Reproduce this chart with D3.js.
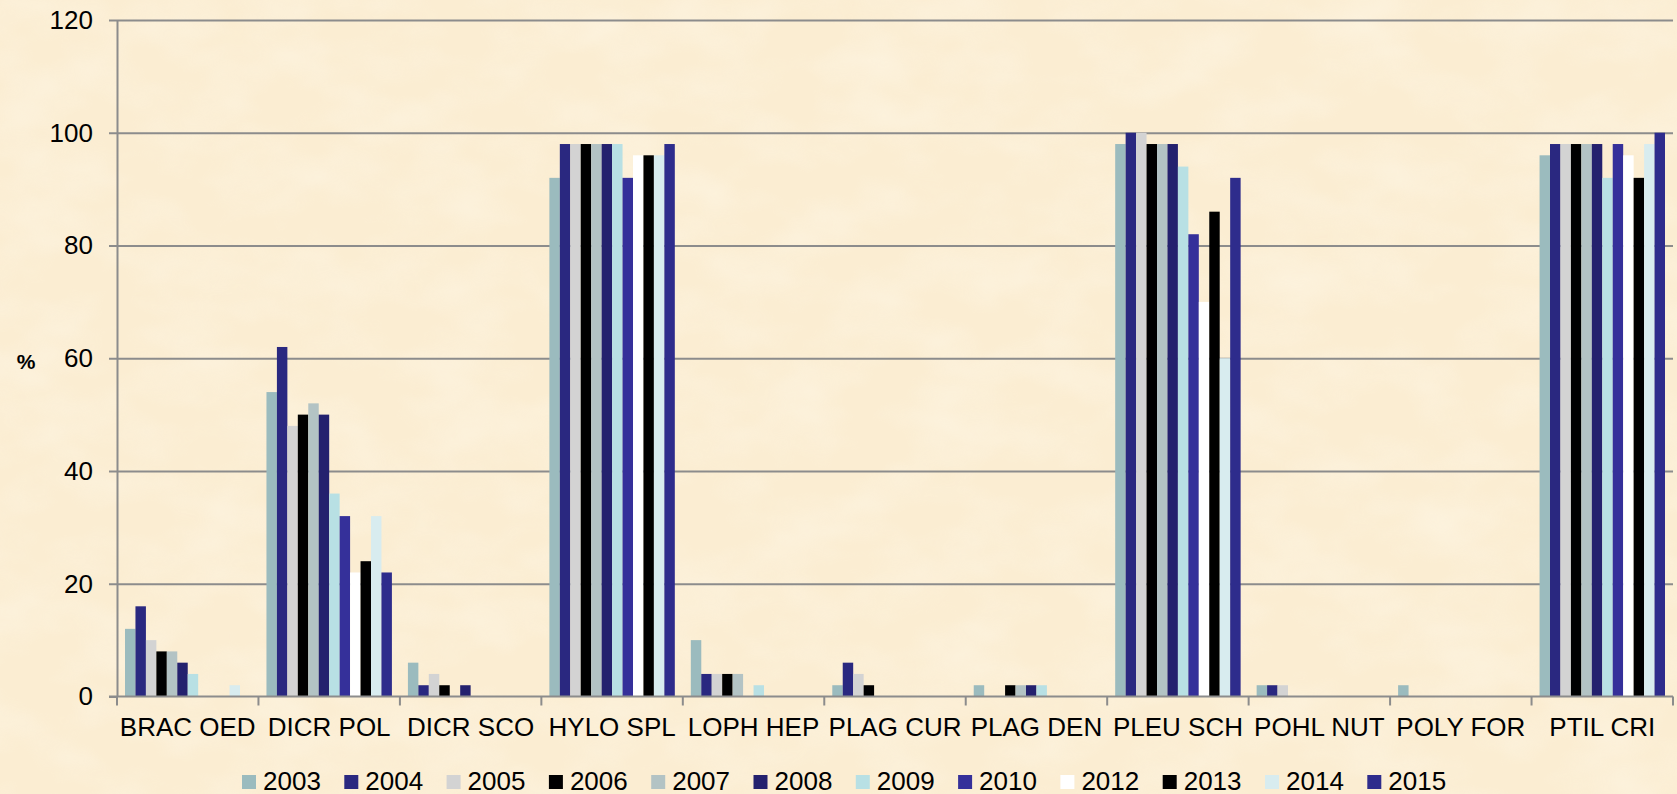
<!DOCTYPE html>
<html>
<head>
<meta charset="utf-8">
<script src="https://cdn.jsdelivr.net/npm/d3@7"></script>
<style>
  body { margin: 0; overflow: hidden; background: #fcefd6; }
  svg text { font-family: "Liberation Sans", Arial, sans-serif; fill: #000; }
</style>
</head>
<body>
<script>
// species codes along the x axis
var categories = ['BRAC OED', 'DICR POL', 'DICR SCO', 'HYLO SPL', 'LOPH HEP', 'PLAG CUR',
                  'PLAG DEN', 'PLEU SCH', 'POHL NUT', 'POLY FOR', 'PTIL CRI'];
var years = ['2003', '2004', '2005', '2006', '2007', '2008', '2009', '2010', '2012', '2013', '2014', '2015'];
var yTicks = [0, 20, 40, 60, 80, 100, 120];

// % per species, one array per year
var v2003 = [12, 54, 6, 92, 10, 2, 2, 98, 2, 2, 96];
var v2004 = [16, 62, 2, 98, 4, 6, 0, 100, 2, 0, 98];
var v2005 = [10, 48, 4, 98, 4, 4, 0, 100, 2, 0, 98];
var v2006 = [8, 50, 2, 98, 4, 2, 2, 98, 0, 0, 98];
var v2007 = [8, 52, 0, 98, 4, 0, 2, 98, 0, 0, 98];
var v2008 = [6, 50, 2, 98, 0, 0, 2, 98, 0, 0, 98];
var v2009 = [4, 36, 0, 98, 2, 0, 2, 94, 0, 0, 92];
var v2010 = [0, 32, 0, 92, 0, 0, 0, 82, 0, 0, 98];
var v2012 = [0, 22, 0, 96, 0, 0, 0, 70, 0, 0, 96];
var v2013 = [0, 24, 0, 96, 0, 0, 0, 86, 0, 0, 92];
var v2014 = [2, 32, 0, 96, 0, 0, 0, 60, 0, 0, 98];
var v2015 = [0, 22, 0, 98, 0, 0, 0, 92, 0, 0, 100];

var series = [v2003, v2004, v2005, v2006, v2007, v2008, v2009, v2010, v2012, v2013, v2014, v2015];
var colors = ['#9bbbbe', '#2a2880', '#d3d3d3', '#000000', '#b3c3c4', '#24216e',
              '#b8e0e4', '#35309a', '#ffffff', '#000000', '#d8ecef', '#2e2c8c'];

var W = 1677, H = 794;
var pLeft = 117, pRight = 1673, pTop = 20, pBottom = 696.5;

var svg = d3.select('body').append('svg')
    .attr('width', W)
    .attr('height', H);

// parchment background
var defs = svg.append('defs');
var f = defs.append('filter').attr('id', 'paper')
    .attr('x', 0).attr('y', 0).attr('width', '100%').attr('height', '100%');
f.append('feTurbulence').attr('type', 'fractalNoise')
    .attr('baseFrequency', '0.012 0.02').attr('numOctaves', 3).attr('seed', 7);
f.append('feColorMatrix').attr('type', 'matrix')
    .attr('values', '0 0 0 0 1  0 0 0 0 0.97  0 0 0 0 0.88  1.2 0 0 0 -0.45');

svg.append('rect').attr('width', W).attr('height', H).attr('fill', '#fbedd2');
svg.append('rect').attr('width', W).attr('height', H).attr('filter', 'url(#paper)').attr('opacity', 0.55);

var x = d3.scaleBand()
    .domain(categories)
    .range([pLeft, pRight])
    .paddingInner(0)
    .paddingOuter(0);

var xs = d3.scaleBand()
    .domain(years)
    .range([0, x.bandwidth()])
    .paddingInner(0)
    .paddingOuter(0.766);

var y = d3.scaleLinear()
    .domain([0, 120])
    .range([pBottom, pTop]);

//gridlines
svg.append('g')
    .attr('transform', `translate(${pLeft},0)`)
    .call(d3.axisLeft(y).tickValues(yTicks.slice(1)).tickSize(-(pRight - pLeft)).tickFormat(''))
    .call(g => g.select('.domain').remove())
    .call(g => g.selectAll('line').attr('stroke', '#8c8c8c').attr('stroke-width', 2));

//bars
series.forEach(function (vals, k) {
    svg.append('g')
        .selectAll('rect')
        .data(vals).enter()
        .append('rect')
        .attr('x', (v, i) => x(categories[i]) + xs(years[k]))
        .attr('width', xs.bandwidth())
        .attr('y', v => y(v))
        .attr('height', v => y(0) - y(v))
        .attr('fill', colors[k]);
});

//axisy
var axisy = svg.append('g')
    .attr('transform', `translate(${pLeft},0)`)
    .call(d3.axisLeft(y).tickValues(yTicks).tickSize(8).tickPadding(16).tickSizeOuter(0));
axisy.select('.domain').attr('stroke', '#8c8c8c').attr('stroke-width', 2);
axisy.selectAll('line').attr('stroke', '#8c8c8c').attr('stroke-width', 2);
axisy.selectAll('text').style('font-size', '26px').attr('font-family', null);

//axisx
var axisx = svg.append('g')
    .attr('transform', `translate(0,${pBottom})`)
    .call(d3.axisBottom(x).tickSize(0).tickPadding(21).tickSizeOuter(0));
axisx.select('.domain').attr('stroke', '#8c8c8c').attr('stroke-width', 2)
    .attr('d', `M${pLeft - 8},0H${pRight}`);
axisx.selectAll('text').style('font-size', '26px').attr('font-family', null);

var bounds = categories.map(c => x(c)).concat([pRight]);
svg.append('g')
    .selectAll('line')
    .data(bounds).enter()
    .append('line')
    .attr('x1', d => d).attr('x2', d => d)
    .attr('y1', pBottom).attr('y2', pBottom + 9)
    .attr('stroke', '#8c8c8c')
    .attr('stroke-width', 2);

// y title
svg.append('text')
    .attr('x', 26).attr('y', 369)
    .attr('text-anchor', 'middle')
    .style('font-size', '21px')
    .style('font-weight', 'bold')
    .text('%');

//legend
var legend = svg.append('g')
    .selectAll('g')
    .data(years).enter()
    .append('g')
    .attr('transform', (d, i) => `translate(${242 + i * 102.3},775)`);
legend.append('rect')
    .attr('width', 14).attr('height', 14)
    .attr('fill', (d, i) => colors[i]);
legend.append('text')
    .attr('x', 21).attr('y', 14.5)
    .style('font-size', '26px')
    .text(d => d);
</script>
</body>
</html>
